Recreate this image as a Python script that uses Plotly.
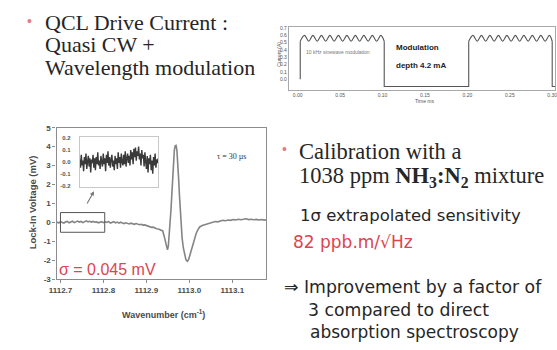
import plotly.graph_objects as go

W, H = 557, 350
def P(x): return x / W
def Q(y): return 1 - y / H

# ---------------- main spectrum (wavenumber cm-1, lock-in mV) ----------------
wn = [1112.692, 1112.696, 1112.700, 1112.704, 1112.708, 1112.712, 1112.716, 1112.720, 1112.724, 1112.728,
      1112.732, 1112.736, 1112.740, 1112.744, 1112.748, 1112.752, 1112.756, 1112.760, 1112.764, 1112.768,
      1112.772, 1112.776, 1112.780, 1112.784, 1112.788, 1112.792, 1112.796, 1112.800, 1112.804, 1112.808,
      1112.812, 1112.816, 1112.820, 1112.824, 1112.828, 1112.832, 1112.836, 1112.840, 1112.844, 1112.848,
      1112.852, 1112.856, 1112.860, 1112.864, 1112.868, 1112.872, 1112.876, 1112.880, 1112.884, 1112.888,
      1112.892, 1112.896, 1112.900,
      1112.904, 1112.908, 1112.912, 1112.916, 1112.920, 1112.924, 1112.928, 1112.932, 1112.935, 1112.938,
      1112.941, 1112.944, 1112.947, 1112.949, 1112.951, 1112.953, 1112.955, 1112.957, 1112.959, 1112.961,
      1112.963, 1112.965, 1112.967, 1112.969, 1112.971, 1112.973, 1112.975, 1112.977, 1112.979, 1112.981,
      1112.983, 1112.986, 1112.989, 1112.992, 1112.995, 1112.998, 1113.001, 1113.004, 1113.008, 1113.012,
      1113.016, 1113.020, 1113.024, 1113.030, 1113.036, 1113.042, 1113.048, 1113.054, 1113.060, 1113.066,
      1113.072, 1113.078, 1113.084, 1113.090, 1113.096, 1113.102, 1113.108, 1113.114, 1113.120, 1113.126,
      1113.132, 1113.138, 1113.144, 1113.150, 1113.156, 1113.162, 1113.168, 1113.174, 1113.179]
lockin = [0.02, -0.03, 0.04, 0.00, -0.04, 0.03, 0.05, -0.02, 0.01, 0.06,
          -0.01, 0.03, 0.07, 0.02, 0.05, -0.01, 0.04, 0.08, 0.03, 0.06,
          0.02, 0.05, 0.01, 0.03, -0.02, 0.02, 0.04, -0.01, 0.03, 0.00,
          0.05, -0.03, 0.01, 0.04, -0.02, 0.02, -0.04, 0.01, -0.03, -0.06,
          -0.02, -0.05, -0.08, -0.04, -0.07, -0.10, -0.06, -0.09, -0.12, -0.10,
          -0.14, -0.13, -0.17,
          -0.20, -0.22, -0.26, -0.25, -0.30, -0.33, -0.35, -0.38, -0.40, -0.45,
          -0.70, -1.05, -1.38, -1.45, -1.25, -0.75, -0.10, 0.60, 1.40, 2.30,
          3.20, 3.80, 4.05, 4.07, 3.80, 3.20, 2.30, 1.40, 0.50, -0.30,
          -0.80, -1.35, -1.75, -1.97, -2.05, -1.98, -1.75, -1.50, -1.25, -0.85,
          -0.57, -0.38, -0.24, -0.16, -0.12, -0.08, -0.04, 0.00, 0.05, 0.03,
          0.08, 0.11, 0.09, 0.13, 0.11, 0.15, 0.13, 0.17, 0.14, 0.16,
          0.19, 0.15, 0.17, 0.14, 0.16, 0.13, 0.15, 0.12, 0.14]
assert len(wn) == len(lockin)

main_xticks = [1112.7, 1112.8, 1112.9, 1113.0, 1113.1]
main_xlabels = ["1112.7", "1112.8", "1112.9", "1113.0", "1113.1"]
main_yticks = [-3, -2, -1, 0, 1, 2, 3, 4, 5]

# ---------------- inset: zoom on baseline noise ----------------
inset_wn = [1112.700 + 0.001 * i for i in range(101)]
inset_mv = [0.02, -0.05, 0.06, -0.03, 0.01, -0.08, 0.04, -0.02, 0.07, -0.06,
            0.00, 0.05, -0.04, 0.03, -0.09, 0.02, -0.01, 0.06, -0.05, 0.03,
            -0.07, 0.04, -0.02, 0.08, -0.03, 0.01, -0.06, 0.05, 0.00, -0.04,
            0.07, -0.02, 0.03, -0.08, 0.06, -0.01, 0.09, -0.03, 0.04, -0.05,
            0.02, 0.06, -0.04, 0.01, -0.07, 0.05, -0.02, 0.03, -0.06, 0.08,
            -0.01, 0.04, -0.05, 0.07, 0.00, -0.03, 0.06, -0.02, 0.09, -0.04,
            0.03, 0.07, -0.01, 0.05, -0.03, 0.10, 0.02, 0.08, -0.02, 0.11,
            0.04, 0.12, 0.01, 0.09, 0.05, 0.13, 0.02, 0.07, -0.03, 0.10,
            0.03, 0.06, -0.04, 0.08, 0.00, -0.06, 0.05, -0.09, 0.03, -0.02,
            0.06, -0.07, 0.01, -0.10, 0.04, -0.03, 0.07, -0.05, 0.02, -0.01,
            0.03]
assert len(inset_wn) == len(inset_mv)
inset_yticks = [-0.2, -0.1, 0.0, 0.1, 0.2]
inset_ylabels = ["-0.2", "-0.1", "0.0", "0.1", "0.2"]

# ---------------- drive current (time ms, current A) ----------------
env_t = [0.003, 0.003, None, 0.102, 0.102, 0.2016, 0.2016, None, 0.300, 0.300, 0.32]
env_i = [0.00, 0.52, None, 0.52, -0.10, -0.10, 0.52, None, 0.52, -0.10, -0.10]
wave1_t = [0.003, 0.008, 0.013, 0.018, 0.023, 0.028, 0.033, 0.038, 0.043, 0.048, 0.053,
           0.058, 0.063, 0.068, 0.073, 0.078, 0.083, 0.088, 0.093, 0.098, 0.102]
wave1_i = [0.52, 0.60, 0.52, 0.60, 0.52, 0.60, 0.52, 0.60, 0.52, 0.60, 0.52,
           0.60, 0.52, 0.60, 0.52, 0.60, 0.52, 0.60, 0.52, 0.60, 0.52]
wave2_t = [0.2016, 0.2066, 0.2116, 0.2166, 0.2216, 0.2266, 0.2316, 0.2366, 0.2416, 0.2466, 0.2516,
           0.2566, 0.2616, 0.2666, 0.2716, 0.2766, 0.2816, 0.2866, 0.2916, 0.2966, 0.3000]
wave2_i = [0.52, 0.60, 0.52, 0.60, 0.52, 0.60, 0.52, 0.60, 0.52, 0.60, 0.52,
           0.60, 0.52, 0.60, 0.52, 0.60, 0.52, 0.60, 0.52, 0.60, 0.52]
cur_xticks = [0.00, 0.05, 0.10, 0.15, 0.20, 0.25, 0.30]
cur_yticks = [0.0, 0.1, 0.2, 0.3, 0.4, 0.5, 0.6, 0.7]

RED = "#dc4450"
TXT = "#262626"
SERIF = "Liberation Serif, Times New Roman, serif"
SANS = "Liberation Sans, Arial, sans-serif"
WIDE = "DejaVu Sans, Verdana, sans-serif"

fig = go.Figure()
fig.add_trace(go.Scatter(x=wn, y=lockin, mode="lines", line=dict(color="#858585", width=1.6),
                         xaxis="x", yaxis="y", showlegend=False, hoverinfo="skip"))
fig.add_trace(go.Scatter(x=inset_wn, y=inset_mv, mode="lines", line=dict(color="#3a3a3a", width=1.4),
                         xaxis="x3", yaxis="y3", showlegend=False, hoverinfo="skip"))
for tt, ii, shp in [(env_t, env_i, "linear"), (wave1_t, wave1_i, "spline"), (wave2_t, wave2_i, "spline")]:
    fig.add_trace(go.Scatter(x=tt, y=ii, mode="lines", line=dict(color="#555555", width=1.1, shape=shp),
                             xaxis="x2", yaxis="y2", showlegend=False, hoverinfo="skip", connectgaps=False))

axis_font = dict(family=SANS, size=8, color="#4a4a4a")
fig.update_layout(
    width=W, height=H, margin=dict(l=0, r=0, t=0, b=0),
    paper_bgcolor="white", plot_bgcolor="rgba(0,0,0,0)",
    xaxis=dict(domain=[P(49.5), P(263)], range=[1112.691, 1113.179], tickvals=main_xticks,
               ticktext=["<b>%s</b>" % s for s in main_xlabels], tickfont=axis_font,
               showgrid=False, zeroline=False, showline=True, mirror=True, linecolor="#8c8c8c", linewidth=1.4,
               ticks="outside", ticklen=3, tickcolor="#8c8c8c"),
    yaxis=dict(domain=[Q(282.5), Q(127)], range=[-3, 5], tickvals=main_yticks,
               ticktext=["<b>%d</b>" % v for v in main_yticks], tickfont=axis_font,
               showgrid=False, zeroline=False, showline=True, mirror=True, linecolor="#8c8c8c", linewidth=1.4,
               ticks="outside", ticklen=3, tickcolor="#8c8c8c"),
    xaxis3=dict(domain=[P(73), P(153)], range=[1112.700, 1112.800], showticklabels=False, ticks="",
                showgrid=False, zeroline=False, showline=True, mirror=True, linecolor="#c8c8c8", linewidth=1,
                anchor="y3"),
    yaxis3=dict(domain=[Q(187.5), Q(136.5)], range=[-0.21, 0.21], tickvals=inset_yticks,
                ticktext=["<b>%s</b>" % s for s in inset_ylabels],
                tickfont=dict(family=SANS, size=6, color="#555"), ticks="", ticklabelstandoff=7,
                showgrid=False, zeroline=False, showline=True, mirror=True, linecolor="#c8c8c8", linewidth=1,
                anchor="x3"),
    xaxis2=dict(domain=[P(286), 1], range=[-0.0104, 0.3033], tickvals=cur_xticks, tickformat=".2f",
                tickfont=dict(family=SANS, size=5, color="#555"), showgrid=False, zeroline=False,
                showline=True, mirror=True, linecolor="#a8a8a8", linewidth=1, ticks="", anchor="y2",
                ticklabeloverflow="allow"),
    yaxis2=dict(domain=[Q(88), Q(24)], range=[-0.145, 0.71], tickvals=cur_yticks, tickformat=".1f",
                tickfont=dict(family=SANS, size=5, color="#555"), showgrid=False, zeroline=False,
                showline=True, mirror=True, linecolor="#a8a8a8", linewidth=1, ticks="", anchor="x2"),
)

ann = []
def txt(x, y, s, size, color=TXT, family=SERIF, xanchor="left", **kw):
    ann.append(dict(x=P(x), y=Q(y), xref="paper", yref="paper", text=s, showarrow=False,
                    xanchor=xanchor, yanchor="middle", font=dict(size=size, color=color, family=family), **kw))

# slide text
txt(22, 17, "•", 14, color="#e87a84", family=SANS, xanchor="center")
txt(36, 19, "QCL Drive Current :", 22)
txt(36, 42, "Quasi CW +", 22)
txt(36, 65, "Wavelength modulation", 22)
txt(282, 149, "•", 14, color="#e87a84", family=SANS, xanchor="center")
txt(294, 151, "Calibration with a", 22.5)
txt(294, 178, "1038 ppm <b>NH<sub>3</sub>:N<sub>2</sub></b> mixture", 22.5)
txt(295, 217, "1σ extrapolated sensitivity", 16.5, family=WIDE)
txt(288, 244, "82 ppb.m/√Hz", 17, color=RED, family=WIDE)
txt(279, 290, "⇒ Improvement by a factor of", 17.3, family=WIDE)
txt(303, 314, "3 compared to direct", 17.3, family=WIDE)
txt(305, 337, "absorption spectroscopy", 17, family=WIDE)

# main chart labels
txt(25, 204, "<b>Lock-In Voltage (mV)</b>", 9.5, color="#4a4a4a", family=SANS, xanchor="center", textangle=-90)
txt(158, 318, "<b>Wavenumber (cm<sup>-1</sup>)</b>", 9, color="#4a4a4a", family=SANS, xanchor="center")
txt(228, 157, "τ = 30 µs", 8, color="#333", family=SERIF, xanchor="center")
txt(50, 273, "σ = 0.045 mV", 16, color=RED, family=SANS)

# drive current labels
txt(393, 45, "<b>Modulation</b>", 8, color="#222", family=SANS)
txt(393, 63, "<b>depth 4.2 mA</b>", 8, color="#222", family=SANS)
txt(336, 49, "10 kHz sinewave modulation", 5, color="#777", family=SANS, xanchor="center")
txt(424, 100, "Time ms", 5, color="#555", family=SANS, xanchor="center")
txt(276, 52, "Current (A)", 5, color="#555", family=SANS, xanchor="center", textangle=-90)

# arrow from zoom box to inset
ann.append(dict(x=1112.778, y=1.65, ax=1112.755, ay=0.72, xref="x", yref="y", axref="x", ayref="y",
                text=" ", showarrow=True, arrowhead=2, arrowsize=0.8, arrowwidth=1.1, arrowcolor="#777"))
fig.update_layout(annotations=ann)

fig.add_shape(type="rect", xref="x", yref="y", x0=1112.700, x1=1112.803, y0=-0.52, y1=0.52,
              line=dict(color="#555", width=1))

fig.write_html("out.html")
